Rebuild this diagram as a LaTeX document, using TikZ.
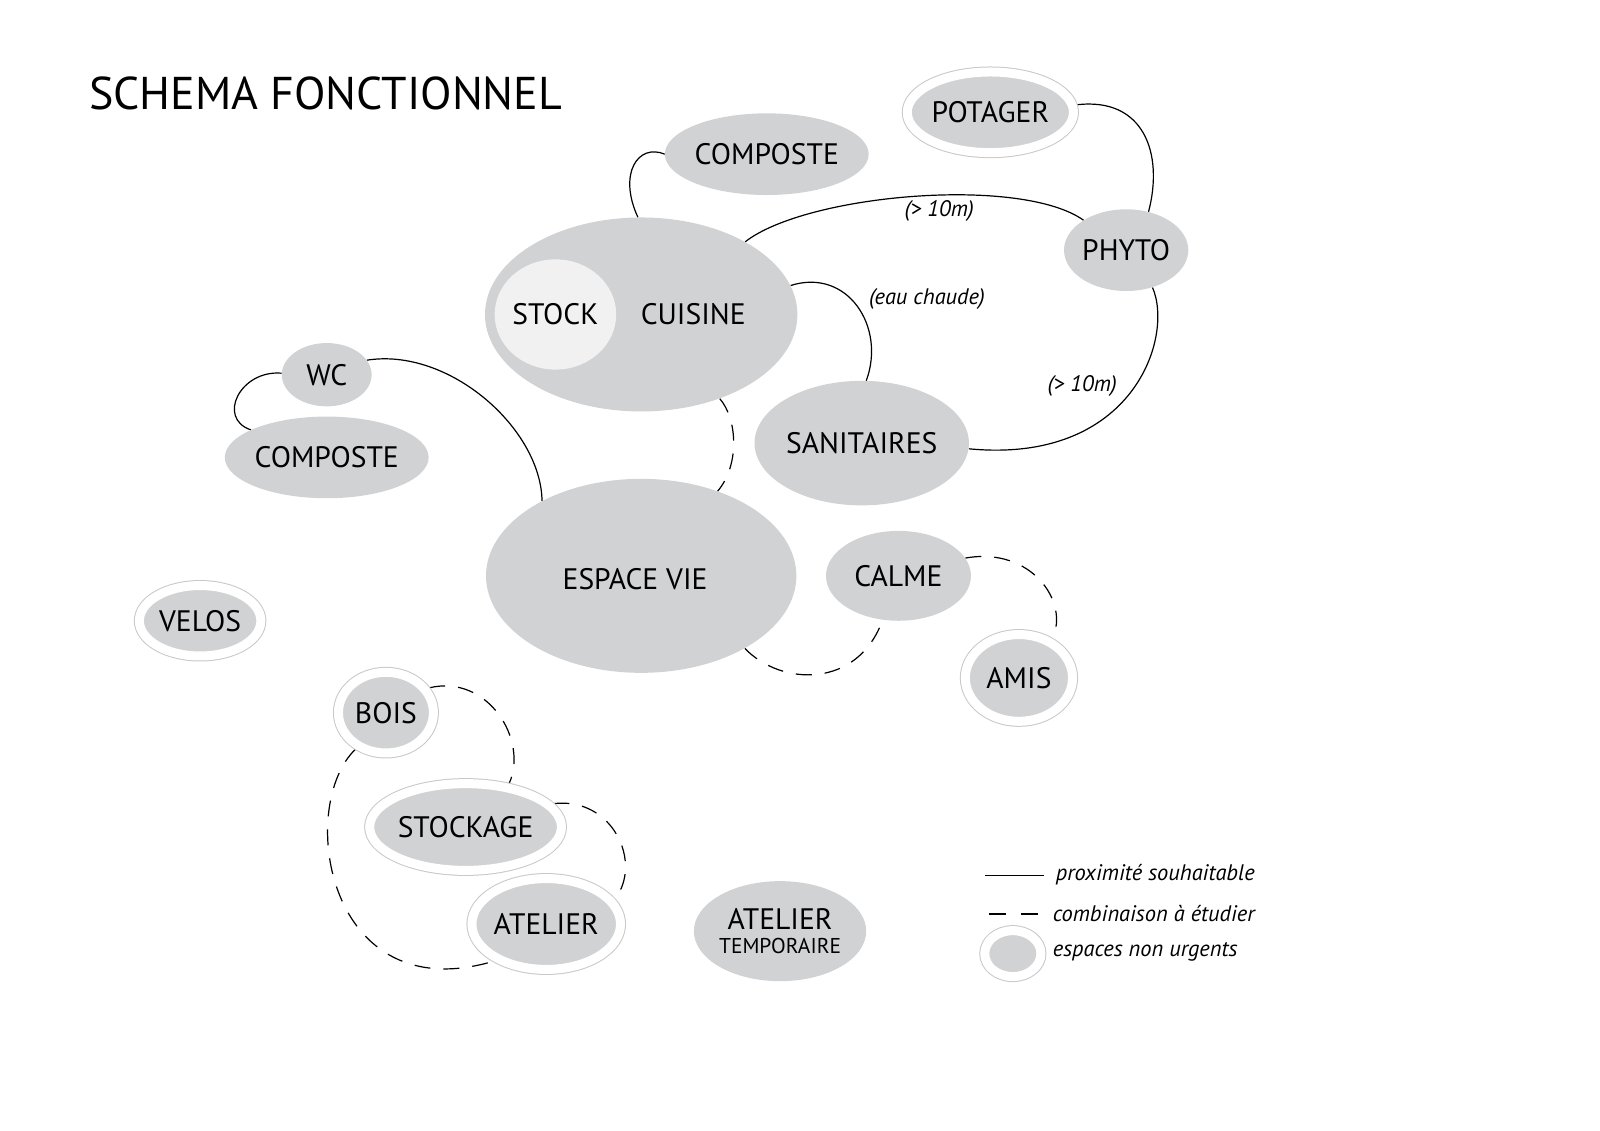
\documentclass[tikz,border=0pt]{standalone}
\usepackage{fontspec}
\setmainfont{PT Sans}
\usetikzlibrary{shapes.geometric}
\usetikzlibrary{backgrounds}
\definecolor{spacegray}{RGB}{209,210,212}
\definecolor{stockgray}{RGB}{241,241,242}
\definecolor{ringgray}{RGB}{200,200,200}

\begin{document}
\begin{tikzpicture}[x=1pt, y=-1pt, scale=1.021, every node/.style={transform shape},
    space/.style={ellipse, fill=spacegray, inner sep=0pt, font=\fontsize{29}{31}\selectfont},
    nonurgent/.style={space, preaction={draw=ringgray, line width=11pt}, draw=white, line width=9pt},
    link/.style={line width=1.2pt},
    maybe/.style={line width=1.2pt, dash pattern=on 16pt off 13pt},
    note/.style={font=\fontsize{22}{24}\selectfont\itshape, inner sep=0pt}]
            \useasboundingbox (0,0) rectangle (1567.1,1107.7);

            % Title
            \node[anchor=base west, inner sep=0pt, font=\fontsize{45}{54}\selectfont] (title) at (87,107) {SCHEMA FONCTIONNEL};

            % Kitchen block
            \node[space, minimum width=306pt, minimum height=190pt] (cuisine) at (628,308) {};
            \node[font=\fontsize{29}{31}\selectfont] (cuisinelbl) at (679,308) {CUISINE};
            \node[space, fill=stockgray, minimum width=112pt, minimum height=108pt] (stock) at (544,308) {STOCK};
            \node[space, minimum width=160pt, minimum height=80pt] (compA) at (751,151) {COMPOSTE};
            \node[nonurgent, minimum width=153pt, minimum height=79pt] (potager) at (970,110) {POTAGER};
            \node[space, minimum width=120pt, minimum height=80pt] (phyto) at (1103,245) {PHYTO};
            \node[space, minimum width=210pt, minimum height=122pt] (sanit) at (844,434) {SANITAIRES};

            % Left side
            \node[space, minimum width=88pt, minimum height=62pt] (wc) at (320,367) {WC};
            \node[space, minimum width=162pt, minimum height=80pt] (compB) at (320,448) {COMPOSTE};
            \node[nonurgent, minimum width=119pt, minimum height=69pt] (velos) at (196,608) {VELOS};

            % Living
            \node[space, minimum width=304pt, minimum height=190pt] (espace) at (628,564) {};
            \node[font=\fontsize{29}{31}\selectfont] (espacelbl) at (622,567) {ESPACE VIE};
            \node[space, minimum width=142pt, minimum height=88pt] (calme) at (880,564) {CALME};
            \node[nonurgent, minimum width=105pt, minimum height=85pt] (amis) at (998,664) {AMIS};

            % Workshop
            \node[nonurgent, minimum width=93pt, minimum height=79pt] (bois) at (378,698) {BOIS};
            \node[nonurgent, minimum width=177pt, minimum height=85pt] (stockage) at (456,810) {STOCKAGE};
            \node[nonurgent, minimum width=139pt, minimum height=89pt] (atelier) at (535,905) {ATELIER};
            \node[space, minimum width=160pt, minimum height=98pt, align=center] (atelierT) at (764,912) {ATELIER\\[-7pt]{\fontsize{21}{23}\selectfont TEMPORAIRE}};

            % Links
            \begin{scope}[on background layer]
            \draw[link] (cuisine.92) .. controls (605,170) and (625,140) .. (compA.west);
            \draw[link] (cuisine.35) .. controls (790,190) and (1000,172) .. (phyto.145);
            \draw[link] (potager.5) .. controls (1120,95) and (1140,150) .. (phyto.60);
            \draw[link] (cuisine.11) .. controls (830,262) and (868,320) .. (sanit.86);
            \draw[link] (phyto.-55) .. controls (1150,330) and (1110,455) .. (sanit.-3);
            \draw[link] (wc.178) .. controls (235,362) and (212,410) .. (compB.160);
            \draw[link] (wc.20) .. controls (440,340) and (530,420) .. (espace.143);
            \draw[maybe] (cuisine.-47) .. controls (722,410) and (725,455) .. (espace.48);
            \draw[maybe] (espace.-35) .. controls (765,672) and (840,675) .. (calme.-110);
            \draw[maybe] (calme.15) .. controls (1010,535) and (1048,590) .. (amis.50);
            \draw[maybe] (bois.30) .. controls (478,660) and (518,725) .. (stockage.45);
            \draw[maybe] (bois.-130) .. controls (290,790) and (320,990) .. (atelier.-145);
            \draw[maybe] (stockage.15) .. controls (600,780) and (630,845) .. (atelier.20);
            \end{scope}
            \node[note] (notecp) at (920,207) {(> 10m)};
            \node[note] (notecs) at (908,293) {(eau chaude)};
            \node[note] (noteps) at (1060,378) {(> 10m)};

            % Legend
            \coordinate (solidA) at (965,857);
            \coordinate (solidB) at (1022,857);
            \draw[link] (solidA) -- (solidB);
            \node[note, anchor=west] (solidtxt) at (1034,857) {proximité souhaitable};
            \coordinate (dashA) at (968,895);
            \coordinate (dashB) at (1016,895);
            \draw[link, dash pattern=on 17pt off 15pt] (dashA) -- (dashB);
            \node[note, anchor=west] (dashtxt) at (1031,895) {combinaison à étudier};
            \node[nonurgent, minimum width=55pt, minimum height=45pt] (legend) at (992,934) {};
            \node[note, anchor=west] (legendtxt) at (1031,932) {espaces non urgents};

        \end{tikzpicture}
\end{document}
